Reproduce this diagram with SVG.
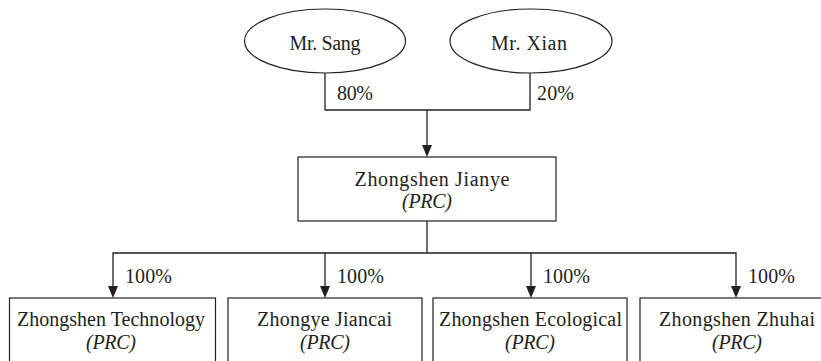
<svg xmlns="http://www.w3.org/2000/svg" width="821" height="361" viewBox="0 0 821 361">
<defs>
<style>
.sh{fill:#fff;stroke:#231f20;stroke-width:1.2}
.ln{fill:none;stroke:#231f20;stroke-width:1.3}
.ah{fill:#231f20}
text{font-family:'Liberation Serif','Times New Roman','Noto Serif','DejaVu Serif',serif;font-size:20px;fill:#231f20}
.t{text-anchor:middle}
.i{font-style:italic}
</style>
</defs>
<rect width="821" height="361" fill="#fff"/>
<g id="connectors">
<path class="ln" d="M325,73 V110 H530 V73"/>
<path class="ln" d="M427,110 V145"/>
<path class="ah" d="M422,145 L432,145 L427,157 Z"/>
<path class="ln" d="M427,221 V253"/>
<path class="ln" d="M113,286 V253 H736 V286"/>
<path class="ln" d="M325,253 V286"/>
<path class="ln" d="M531,253 V286"/>
<path class="ah" d="M108,286 L118,286 L113,298 Z"/>
<path class="ah" d="M320,286 L330,286 L325,298 Z"/>
<path class="ah" d="M526,286 L536,286 L531,298 Z"/>
<path class="ah" d="M731,286 L741,286 L736,298 Z"/>
<text x="337" y="100" textLength="36">80%</text>
<text x="537" y="100" textLength="37">20%</text>
<text x="125" y="283" textLength="47">100%</text>
<text x="337" y="283" textLength="47">100%</text>
<text x="543" y="283" textLength="47">100%</text>
<text x="748" y="283" textLength="47">100%</text>
</g>
<g id="sang">
<ellipse class="sh" cx="325" cy="41" rx="80.5" ry="32"/>
<text class="t" x="325" y="50" textLength="71">Mr. Sang</text>
</g>
<g id="xian">
<ellipse class="sh" cx="531" cy="41" rx="81" ry="32"/>
<text class="t" x="529" y="50" textLength="76">Mr. Xian</text>
</g>
<g id="jianye">
<rect class="sh" x="298" y="157" width="258" height="64"/>
<text class="t" x="432" y="186" textLength="155">Zhongshen Jianye</text>
<text class="t i" x="427" y="208" textLength="50">(PRC)</text>
</g>
<g id="technology">
<rect class="sh" x="9.5" y="298" width="206" height="70"/>
<text class="t" x="111" y="326" textLength="188">Zhongshen Technology</text>
<text class="t i" x="111" y="349" textLength="50">(PRC)</text>
</g>
<g id="jiancai">
<rect class="sh" x="228" y="298" width="194" height="70"/>
<text class="t" x="324.5" y="326" textLength="135">Zhongye Jiancai</text>
<text class="t i" x="325" y="349" textLength="50">(PRC)</text>
</g>
<g id="ecological">
<rect class="sh" x="433" y="298" width="194" height="70"/>
<text class="t" x="530.5" y="326" textLength="183">Zhongshen Ecological</text>
<text class="t i" x="530" y="349" textLength="50">(PRC)</text>
</g>
<g id="zhuhai">
<rect class="sh" x="640" y="298" width="194" height="70"/>
<text class="t" x="737" y="326" textLength="156">Zhongshen Zhuhai</text>
<text class="t i" x="737" y="349" textLength="50">(PRC)</text>
</g>
</svg>
